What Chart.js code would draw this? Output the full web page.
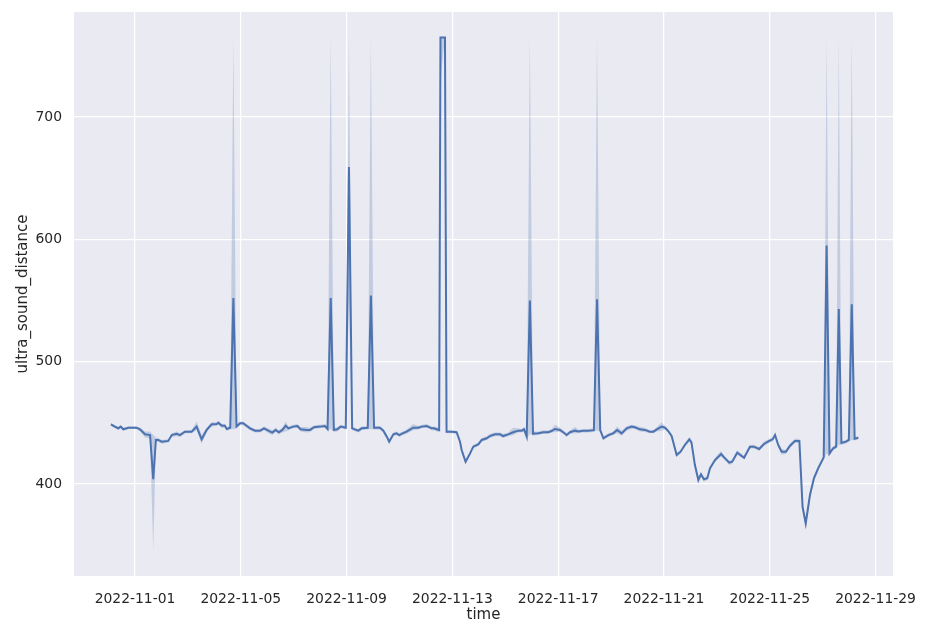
<!DOCTYPE html>
<html>
<head>
<meta charset="utf-8">
<script src="https://cdn.jsdelivr.net/npm/chart.js@4/dist/chart.umd.min.js"></script>
<style>
  html, body { margin: 0; padding: 0; background: #fff; }
  #chart { display: block; }
</style>
</head>
<body>
<canvas id="chart" width="925" height="620"></canvas>
<script>
// days after 2022-11-01 00:00
const days = [
  -0.91, -0.76, -0.63, -0.54, -0.44, -0.25, 0.06, 0.19, 0.38, 0.57,
  0.69, 0.79, 0.88, 1.01, 1.26, 1.39, 1.58, 1.70, 1.89, 2.14,
  2.33, 2.52, 2.71, 2.90, 3.09, 3.15, 3.28, 3.40, 3.47, 3.60,
  3.72, 3.84, 3.97, 4.09, 4.35, 4.54, 4.73, 4.88, 5.04, 5.19,
  5.32, 5.44, 5.57, 5.70, 5.80, 5.98, 6.14, 6.26, 6.49, 6.62,
  6.77, 7.00, 7.18, 7.28, 7.40, 7.52, 7.65, 7.78, 7.97, 8.09,
  8.21, 8.44, 8.57, 8.80, 8.92, 9.04, 9.26, 9.39, 9.52, 9.61,
  9.77, 9.89, 9.99, 10.12, 10.27, 10.52, 10.71, 10.84, 11.03, 11.22,
  11.30, 11.41, 11.50, 11.55, 11.72, 11.78, 11.84, 11.97, 12.16, 12.29,
  12.35, 12.50, 12.67, 12.79, 12.98, 13.11, 13.30, 13.42, 13.61, 13.80,
  13.92, 14.11, 14.30, 14.49, 14.62, 14.71, 14.81, 14.93, 15.05, 15.25,
  15.44, 15.63, 15.75, 15.88, 16.07, 16.19, 16.32, 16.45, 16.64, 16.76,
  16.95, 17.14, 17.35, 17.47, 17.59, 17.71, 17.90, 18.08, 18.23, 18.40,
  18.59, 18.78, 18.90, 19.09, 19.28, 19.47, 19.60, 19.73, 19.91, 20.04,
  20.16, 20.29, 20.48, 20.63, 20.79, 20.96, 21.04, 21.17, 21.30, 21.40,
  21.51, 21.64, 21.74, 21.93, 22.16, 22.31, 22.47, 22.58, 22.77, 23.03,
  23.25, 23.40, 23.60, 23.78, 23.98, 24.11, 24.20, 24.32, 24.45, 24.61,
  24.76, 24.95, 25.12, 25.24, 25.36, 25.52, 25.67, 25.83, 26.04, 26.15,
  26.26, 26.40, 26.51, 26.61, 26.71, 26.88, 26.99, 27.10, 27.21, 27.35
]

const distance = [
  448.8, 446.9, 445.5, 446.9, 444.7, 446, 446, 444.7, 440.6, 440,
  404, 436, 436, 434.6, 435.2, 440, 441, 440, 442.8, 442.8,
  446.9, 436.5, 444.2, 448.8, 449, 450, 447.7, 447.7, 445, 446,
  552, 447, 449.6, 449.6, 445.5, 443.6, 443.6, 445.5, 443.6, 442,
  444.2, 442.3, 444.2, 447.7, 445.5, 446.9, 447.4, 444.7, 444.2, 444.2,
  446.4, 446.9, 447.4, 445, 552, 444.2, 444.7, 446.9, 446, 659,
  445.5, 443.6, 445.5, 446, 554, 446, 446, 443.6, 438.7, 434.6,
  440.6, 441.4, 440, 441.4, 442.8, 446, 446, 446.9, 447.4, 445.5,
  445.5, 444.7, 444, 765, 765, 442.8, 442.8, 442.8, 442.3, 434.6,
  427.8, 418.2, 425, 430.5, 432.4, 436, 437.4, 439.2, 440.6, 440.6,
  439.2, 440.6, 442.3, 443.6, 443.6, 444.7, 438.7, 550, 441.2, 441.4,
  442.3, 442.3, 443.3, 445, 444.2, 442.3, 440, 442.3, 443.6, 443,
  443.6, 443.6, 444, 551, 444, 437.4, 440, 441.4, 444.2, 441.4,
  445.5, 446.9, 446.4, 444.7, 444.2, 442.8, 442.8, 444.7, 446.9, 446,
  443.3, 439.2, 423.7, 426.4, 431.9, 436.5, 434.1, 415.5, 403.3, 407.9,
  403.8, 404.7, 412.8, 419.6, 424.5, 421, 417.4, 418.2, 425.6, 421.5,
  430.5, 430.5, 428.6, 432.7, 435.2, 436.5, 440, 431.9, 426.4, 426.4,
  431.1, 435.2, 435.2, 381.5, 367.8, 391, 404.7, 412.8, 421.8, 595,
  425, 429.2, 430.5, 543, 433.5, 434.6, 436, 547, 437, 437.8
]

const bandLow = [
  447.5, 445.5, 444, 445.5, 443.5, 445, 445, 443, 438, 437,
  345, 434, 434.5, 433, 434, 438.5, 439, 438.5, 441.5, 441.5,
  444, 433, 442.5, 447, 447.5, 448.5, 446, 446, 443.5, 444.5,
  445, 445.5, 448, 448, 444, 442, 442, 444, 441.5, 440,
  442.5, 440.5, 442, 443, 444, 445.5, 446, 443, 442, 442.5,
  445, 445.5, 446, 443.5, 445, 442.5, 443, 445.5, 444.5, 550,
  444, 442, 444, 444.5, 445, 444.5, 444.5, 442, 437, 432.5,
  439, 440, 438.5, 440, 441, 444, 444.5, 445.5, 446, 444,
  444, 443, 442.5, 730, 765, 441.5, 441.5, 441.5, 441, 433,
  426, 416.5, 423.5, 429, 431, 434.5, 436, 437.5, 439, 439,
  437.5, 439, 440, 442, 442, 443, 437, 441, 439.5, 440,
  441, 441, 442, 442.5, 442.5, 441, 438.5, 441, 441.5, 441.5,
  442, 442, 442.5, 444, 442.5, 436, 438.5, 440, 441.5, 439.5,
  443.5, 445, 445, 443, 442.5, 441.5, 441.5, 443, 443.5, 444.5,
  442, 438, 422, 425, 430.5, 434.5, 432, 413.5, 400, 406,
  402, 403, 411, 418, 422.5, 419.5, 415.5, 416.5, 424, 420,
  429, 429, 427, 431, 433.5, 435, 438.5, 430, 424, 424.5,
  429.5, 433.5, 433.5, 378, 364, 388, 402.5, 411, 420, 425,
  423, 427.5, 429, 432, 432, 433, 434.5, 436, 435.5, 436.5
]

const bandHigh = [
  450, 448, 447, 448, 446, 447, 447, 446, 443, 443,
  440, 438, 437.5, 436, 436.5, 441.5, 443, 441.5, 444, 444,
  451, 440, 446, 450.5, 450.5, 452, 449, 449, 446.5, 447.5,
  765, 448.5, 451, 451, 447, 445, 445, 447, 445.5, 444,
  446, 444, 446, 451, 447, 448.5, 449, 446.5, 446.5, 446,
  448, 448.5, 449, 446.5, 765, 446, 446.5, 448.5, 447.5, 765,
  447, 445, 447, 447.5, 765, 447.5, 447.5, 445, 440.5, 436.5,
  442, 443, 441.5, 443, 444.5, 449, 447.5, 448.5, 449, 447,
  447, 446.5, 445.5, 765, 765, 444, 444, 444, 443.5, 436,
  429.5, 420, 426.5, 432, 434, 437.5, 439, 441, 442, 442,
  441, 442, 446, 445.5, 445, 446.5, 440.5, 765, 443, 443,
  444, 444, 445, 448.5, 446, 444, 441.5, 444, 446.5, 444.5,
  445, 445, 445.5, 765, 445.5, 439, 441.5, 443, 447, 443.5,
  447.5, 448.5, 448, 446.5, 446, 444, 444, 446.5, 450.5, 447.5,
  445, 440.5, 425.5, 428, 433.5, 438.5, 436, 417.5, 406, 410,
  405.5, 406.5, 414.5, 421.5, 427, 422.5, 419, 420, 427.5, 423,
  432, 432, 430, 434.5, 437, 438, 442, 434, 428.5, 428,
  433, 437, 437, 385, 372, 394, 407, 414.5, 423.5, 765,
  427, 431, 432, 765, 435, 436, 437.5, 765, 438.5, 439
]

const tickDays = [0, 4, 8, 12, 16, 20, 24, 28]
const tickLabels = ["2022-11-01", "2022-11-05", "2022-11-09", "2022-11-13",
  "2022-11-17", "2022-11-21", "2022-11-25", "2022-11-29"]
const yTicks = [400, 500, 600, 700]

const lineColor = "#4C72B0"
const bandColor = "rgba(76, 114, 176, 0.25)"
const textColor = "#262626"
const font = "'DejaVu Sans', 'Liberation Sans', sans-serif"

const toPoints = (ys) => days.map((d, i) => ({x: d, y: ys[i]}))

const plotBackground = {
    id: "plotBackground",
    beforeDraw(chart) {
        const {ctx, chartArea: a} = chart
        ctx.save()
        ctx.fillStyle = "#EAEAF2"
        ctx.fillRect(a.left, a.top, a.right - a.left, a.bottom - a.top)
        ctx.restore()
    }
}

const ctx = document.querySelector("#chart")

new Chart(ctx, {
    type: "line",
    data: {
        datasets: [
            {
                data: toPoints(bandLow),
                borderWidth: 0,
                pointRadius: 0,
                fill: false,
                order: 3,
            },
            {
                data: toPoints(bandHigh),
                borderWidth: 0,
                pointRadius: 0,
                backgroundColor: bandColor,
                fill: "-1",
                order: 2,
            },
            {
                data: toPoints(distance),
                borderColor: lineColor,
                borderWidth: 2,
                pointRadius: 0,
                lineTension: 0,
                fill: false,
                order: 1,
            }
        ]
    },
    options: {
        responsive: false,
        animation: false,
        layout: {
            padding: {left: 0, right: 32, top: 12, bottom: 0}
        },
        scales: {
            x: {
                type: "linear",
                min: -2.306,
                max: 28.66,
                afterBuildTicks: (scale) => {
                    scale.ticks = tickDays.map(v => ({value: v}))
                },
                afterFit: (scale) => {
                    scale.height = 44
                    scale.paddingLeft = 0
                    scale.paddingRight = 0
                },
                grid: {color: "#ffffff", lineWidth: 1.25, drawTicks: false},
                border: {display: false},
                ticks: {
                    color: textColor,
                    font: {family: font, size: 13.9},
                    padding: 15,
                    maxRotation: 0,
                    callback: (value, index) => tickLabels[index]
                },
                title: {
                    display: true,
                    text: "time",
                    color: textColor,
                    font: {family: font, size: 15, lineHeight: 0.6},
                    padding: {top: 0, bottom: 0}
                }
            },
            y: {
                min: 324.8,
                max: 785.8,
                afterBuildTicks: (scale) => {
                    scale.ticks = yTicks.map(v => ({value: v}))
                },
                afterFit: (scale) => {
                    scale.width = 74
                    scale.paddingTop = 0
                    scale.paddingBottom = 0
                },
                grid: {color: "#ffffff", lineWidth: 1.25, drawTicks: false},
                border: {display: false},
                ticks: {
                    color: textColor,
                    font: {family: font, size: 13.9},
                    padding: 12
                },
                title: {
                    display: true,
                    text: "ultra_sound_distance",
                    color: textColor,
                    font: {family: font, size: 15, lineHeight: 1.2},
                    padding: {top: 14, bottom: 0}
                }
            }
        },
        plugins: {
            legend: {display: false},
            tooltip: {enabled: false}
        }
    },
    plugins: [plotBackground]
})
</script>
</body>
</html>
